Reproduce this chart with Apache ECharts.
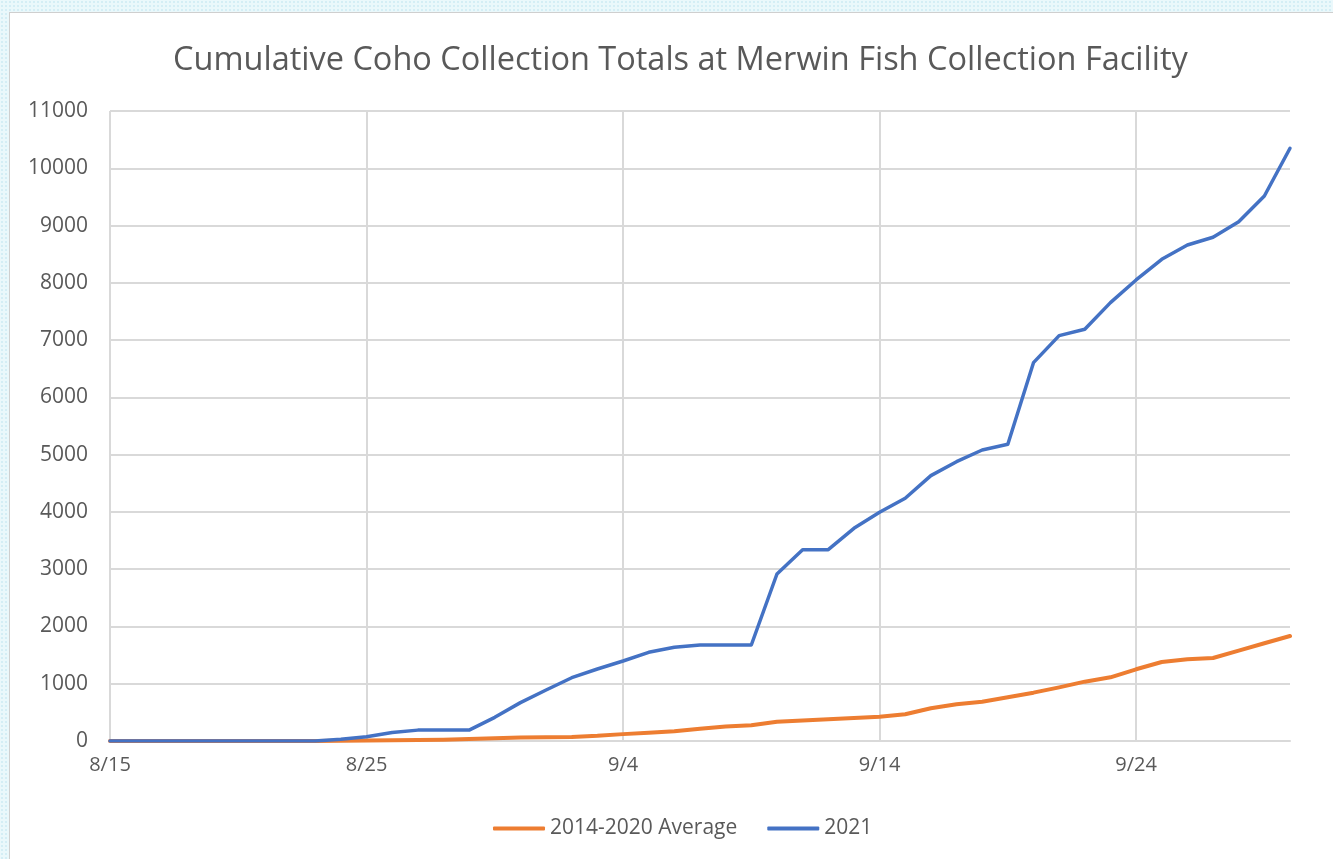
<!DOCTYPE html>
<html>
<head>
<meta charset="utf-8">
<script src="https://cdn.jsdelivr.net/npm/echarts@6/dist/echarts.min.js"></script>
<style>
  html, body { margin: 0; padding: 0; width: 1333px; height: 859px; overflow: hidden; }
  body {
    background-color: #eaf8fb;
    background-image: radial-gradient(#d4eef5 1px, transparent 1px);
    background-size: 4px 4px;
  }
  #frame { position: absolute; left: 9px; top: 12px; width: 1330px; height: 850px; background: #fff; border-left: 1px solid #cfcfcf; border-top: 1px solid #cfcfcf; }
  #chart { position: absolute; left: 0; top: 0; width: 1333px; height: 859px; }
</style>
</head>
<body>
<div id="frame"></div>
<div id="chart"></div>
<script>
const categories = ['8/15','8/16','8/17','8/18','8/19','8/20','8/21','8/22','8/23','8/24',
  '8/25','8/26','8/27','8/28','8/29','8/30','8/31','9/1','9/2','9/3',
  '9/4','9/5','9/6','9/7','9/8','9/9','9/10','9/11','9/12','9/13',
  '9/14','9/15','9/16','9/17','9/18','9/19','9/20','9/21','9/22','9/23',
  '9/24','9/25','9/26','9/27','9/28','9/29','9/30'];

const average2014_2020 = [0,0,0,0,0,0,0,0,0,3,
  8,12,18,22,35,47,60,64,70,90,
  120,145,169,215,252,274,335,360,380,401,
  425,466,571,641,687,763,844,937,1036,1112,
  1252,1379,1426,1449,1577,1706,1833];

const year2021 = [0,0,0,0,0,0,0,0,0,30,
  75,150,190,190,190,413,670,890,1105,1257,
  1397,1548,1636,1676,1676,1676,2916,3340,3340,3713,
  3993,4238,4633,4877,5081,5180,6606,7078,7189,7654,
  8050,8411,8660,8795,9068,9516,10349];

const seriesNames = ['2014-2020 Average', '2021'];
const yTicks = { min: 0, max: 11000, interval: 1000 };

const chart = echarts.init(document.getElementById('chart'), null, { renderer: 'canvas' });
const textColor = '#595959';
const font = "'Open Sans', 'Liberation Sans', sans-serif";
chart.setOption({
  backgroundColor: 'transparent',
  animation: false,
  title: {
    text: 'Cumulative Coho Collection Totals at Merwin Fish Collection Facility',
    left: 168, top: 39,
    textStyle: { color: textColor, fontSize: 32.5, fontWeight: 'normal', fontFamily: font }
  },
  legend: {
    top: 813, left: 488,
    itemWidth: 52, itemHeight: 4, itemGap: 30,
    icon: 'roundRect',
    textStyle: { color: textColor, fontSize: 21, fontFamily: font },
    data: seriesNames
  },
  grid: { left: 110, right: 43, top: 111, bottom: 118, containLabel: false },
  xAxis: {
    type: 'category', data: categories, boundaryGap: false,
    axisLine: { lineStyle: { color: '#d9d9d9', width: 2 } },
    axisTick: { show: false },
    axisLabel: { interval: 9, color: textColor, fontSize: 20, fontFamily: font, margin: 14 },
    splitLine: { show: true, interval: 9, lineStyle: { color: '#d9d9d9', width: 2 } }
  },
  yAxis: {
    type: 'value', min: yTicks.min, max: yTicks.max, interval: yTicks.interval,
    axisLine: { show: false }, axisTick: { show: false },
    axisLabel: { color: textColor, fontSize: 21, fontFamily: font, margin: 22,
      formatter: function (v) { return String(v); } },
    splitLine: { lineStyle: { color: '#d9d9d9', width: 2 } }
  },
  series: [
    { name: seriesNames[0], type: 'line', data: average2014_2020, showSymbol: false,
      lineStyle: { color: '#ED7D31', width: 4, cap: 'round', join: 'round' }, itemStyle: { color: '#ED7D31' } },
    { name: seriesNames[1], type: 'line', data: year2021, showSymbol: false,
      lineStyle: { color: '#4472C4', width: 3.5, cap: 'round', join: 'round' }, itemStyle: { color: '#4472C4' } }
  ]
});
</script>
</body>
</html>
